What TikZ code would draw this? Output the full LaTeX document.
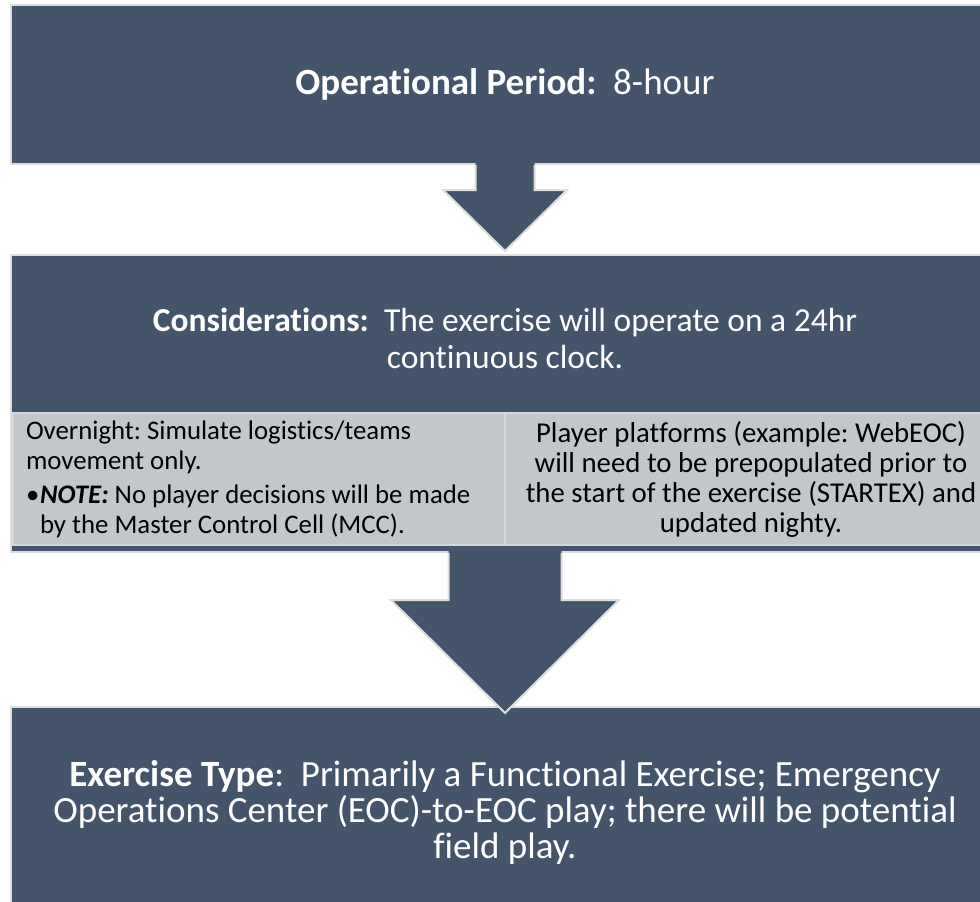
\documentclass[tikz,border=0pt]{standalone}
\usepackage{fontspec}
\setmainfont{Carlito}[Ligatures=NoCommon]
\usetikzlibrary{calc}
\definecolor{slate}{HTML}{44546A}
\definecolor{cellgray}{RGB}{195,199,204}
\definecolor{rimgray}{RGB}{221,221,221}
\definecolor{celledge}{RGB}{212,215,220}
\tikzstyle{stagebox}=[draw=rimgray,line width=2pt,fill=slate,text=white,outer sep=0pt,minimum width=988pt,align=center,font=\fontsize{37}{36}\selectfont]
\tikzstyle{stagetext}=[text=white,align=center,font=\fontsize{33.5}{37}\selectfont]
\tikzstyle{cellbox}=[draw=celledge,line width=1.2pt,fill=cellgray,text=black,outer sep=0pt,minimum width=492pt,minimum height=132pt,inner xsep=13pt,font=\fontsize{28.8}{30}\selectfont\frenchspacing]
\tikzstyle{arrowfill}=[fill=slate]
\tikzstyle{arrowrim}=[draw=rimgray,line width=2pt,line join=miter]
\newcommand{\blockarrow}[6]{%
  \fill[arrowfill] ($(#1.south)+(-#3,-3)$) -- ($(#1.south)+(-#3,#5)$) -- ($(#1.south)+(-#4,#5)$)
    -- ($(#2.north)+(0,#6)$) -- ($(#1.south)+(#4,#5)$) -- ($(#1.south)+(#3,#5)$) -- ($(#1.south)+(#3,-3)$) -- cycle;
  \draw[arrowrim] ($(#1.south)+(-#3,1)$) -- ($(#1.south)+(-#3,#5)$) -- ($(#1.south)+(-#4,#5)$)
    -- ($(#2.north)+(0,#6)$) -- ($(#1.south)+(#4,#5)$) -- ($(#1.south)+(#3,#5)$) -- ($(#1.south)+(#3,1)$);
}

\begin{document}
\begin{tikzpicture}[x=1pt,y=-1pt]
\useasboundingbox[fill=white] (0,0) rectangle (980,902);
\node[stagebox,minimum height=159pt] (opbox) at (505,84.5) {\textbf{Operational Period:}\ \ 8-hour};
\node[stagebox,minimum height=297pt] (consbox) at (505,403.5) {};
\node[stagetext] (constitle) at (505,338) {\textbf{Considerations:}\ \ The exercise will operate on a 24hr\\continuous clock.};
\node[cellbox,text width=466pt,align=flush left,font=\fontsize{26.8}{30}\selectfont\frenchspacing] (nightcell) at (259,479) {Overnight: Simulate logistics/teams\\movement only.\\[4pt]\makebox[14pt][l]{•}\textbf{\textit{NOTE:}} No player decisions will be made\\\hspace*{14pt}by the Master Control Cell (MCC).};
\node[cellbox,align=center] (platcell) at (751,479) {Player platforms (example: WebEOC)\\will need to be prepopulated prior to\\the start of the exercise (STARTEX) and\\updated nighty.};
\node[stagebox,minimum height=210pt] (typebox) at (505,812) {\textbf{Exercise Type}:\ \ Primarily a Functional Exercise; Emergency\\Operations Center (EOC)-to-EOC play; there will be potential\\field play.};
\blockarrow{opbox}{consbox}{29.5}{62}{26}{-4}
\blockarrow{consbox}{typebox}{56.5}{114}{48}{6}
\end{tikzpicture}
\end{document}
